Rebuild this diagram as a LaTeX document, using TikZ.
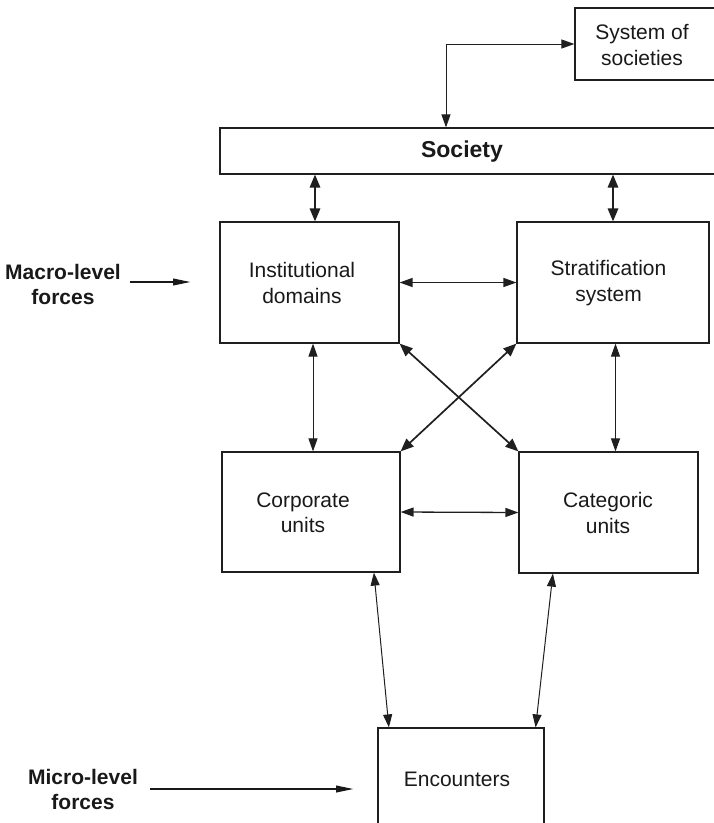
\documentclass[tikz,border=0pt]{standalone}
\usepackage{fontspec}
\setmainfont{Liberation Sans}
\usetikzlibrary{arrows.meta,calc}
\begin{document}
\begin{tikzpicture}[x=1pt,y=-1pt,
  box/.style={draw=black!88, line width=1.2pt, inner sep=0pt},
  lbl/.style={align=center, inner sep=0pt, font=\fontsize{21}{25.5}\selectfont, text=black!90},
  side/.style={align=center, inner sep=0pt, font=\fontsize{21}{25}\selectfont\bfseries, text=black!90},
  link/.style={draw=black!88, line width=1pt,
    {Triangle[length=13pt,width=9pt]}-{Triangle[length=13pt,width=9pt]}},
  heavylink/.style={link, line width=1.7pt,
    {Triangle[length=13pt,width=10.5pt]}-{Triangle[length=13pt,width=10.5pt]}},
  midlink/.style={link, line width=1.3pt},
  force/.style={draw=black!90, line width=2.2pt, -{Triangle[length=18pt,width=6.5pt]}}
]
\useasboundingbox (0,0) rectangle (714,823);
\clip (0,0) rectangle (714,823);

% boxes
\node[box, minimum width=141pt, minimum height=72pt] (sys) at (645.5,44) {};
\node[lbl] (systxt) at (642,45) {System of\\societies};

\node[box, minimum width=500pt, minimum height=46pt] (soc) at (470,151) {};
\node[lbl, font=\fontsize{23}{27}\selectfont\bfseries] (soctxt) at (462,152) {Society};

\node[box, minimum width=179pt, minimum height=121pt] (inst) at (309.5,282.5) {};
\node[lbl] (insttxt) at (302,283) {Institutional\\domains};

\node[box, minimum width=192pt, minimum height=121pt] (strat) at (613,282.5) {};
\node[lbl] (strattxt) at (608.5,283) {Stratification\\system};

\node[box, minimum width=178pt, minimum height=120pt] (corp) at (311,512) {};
\node[lbl] (corptxt) at (303,513) {Corporate\\units};

\node[box, minimum width=179pt, minimum height=121pt] (categ) at (608.5,512.5) {};
\node[lbl] (categtxt) at (608,513) {Categoric\\units};

\node[box, minimum width=166pt, minimum height=102pt] (enc) at (461,779) {};
\node[lbl] (enctxt) at (457,779) {Encounters};

% side labels
\node[side] (macro) at (63,284) {Macro-level\\forces};
\node[side] (micro) at (83,789) {Micro-level\\forces};

% society and the system of societies
\coordinate (sysx) at (446,0);
\draw[link] (sysx |- soc.north) |- (sys.west);

% society to the upper pair
\coordinate (instx) at (315,0);
\draw[heavylink] (instx |- soc.south) -- (instx |- inst.north);
\draw[heavylink] (strat.north |- soc.south) -- (strat.north);

% upper pair
\draw[midlink] (inst.east) -- (strat.west);

% upper to lower
\coordinate (corpx) at (313,0);
\coordinate (categx) at (615.5,0);
\draw[link] (corpx |- inst.south) -- (corpx |- corp.north);
\draw[link] (categx |- strat.south) -- (categx |- categ.north);
\draw[heavylink] (inst.south east) -- (categ.north west);
\draw[heavylink] (strat.south west) -- (corp.north east);

% lower pair
\draw[midlink] (corp.east) -- (categ.west);

% lower pair to encounters
\draw[link] ($(corp.south west)+(152.5,0)$) -- ($(enc.north west)+(11.5,0)$);
\draw[link] ($(categ.south west)+(34.5,0)$) -- ($(enc.north east)+(-9,0)$);

% outside forces
\coordinate (macrotip) at (191,282);
\draw[force] ($(macro.east |- macrotip)+(9,0)$) -- (macrotip);
\coordinate (microtip) at (354,789);
\draw[force] ($(micro.east |- microtip)+(12,0)$) -- (microtip);
\end{tikzpicture}
\end{document}
